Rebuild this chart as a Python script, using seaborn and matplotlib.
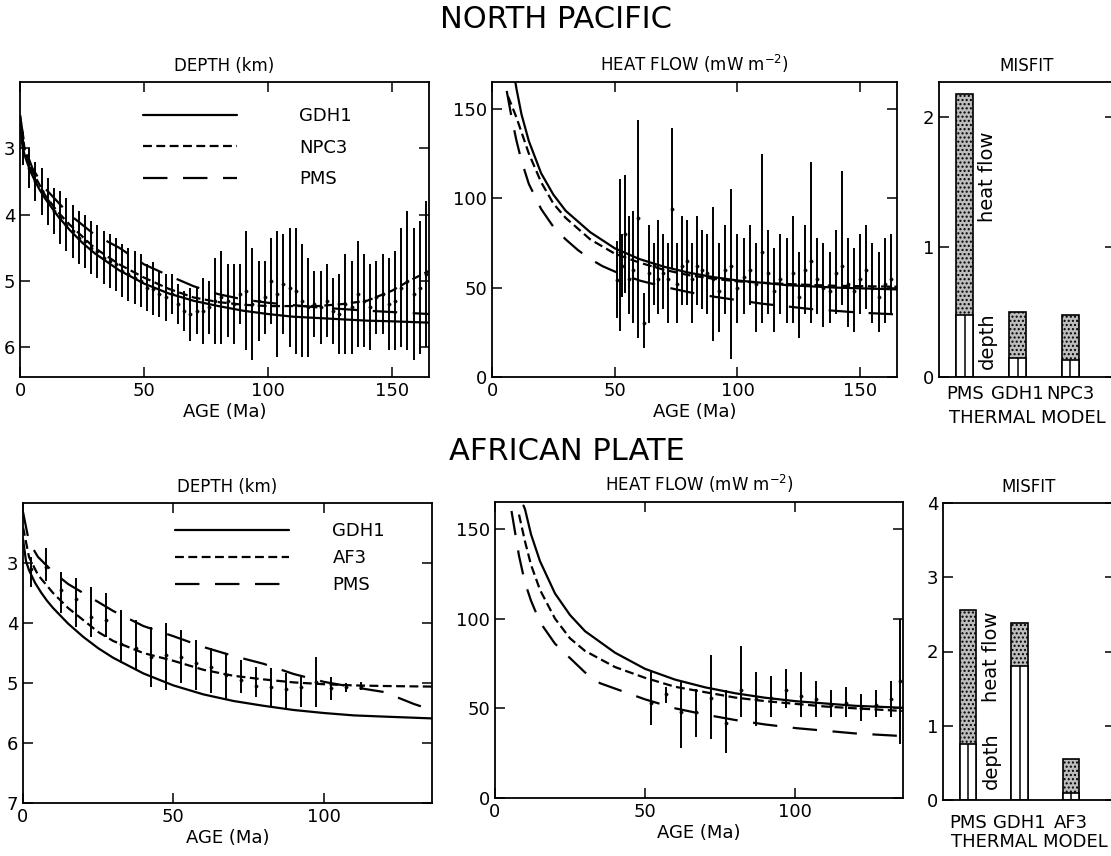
import numpy as np
import pandas as pd
import seaborn as sns
import matplotlib.pyplot as plt

# ---------------- model curves ----------------
np_depth_gdh1_age = [0, 1, 2, 4, 6, 8, 10, 15, 20, 25, 30, 40, 50, 60, 70, 80, 90, 100, 110, 120, 130, 140, 150, 165]
np_depth_gdh1 = [2.6, 2.97, 3.12, 3.33, 3.49, 3.63, 3.75, 4.01, 4.23, 4.42, 4.58, 4.84, 5.04, 5.19, 5.3, 5.38,
                 5.45, 5.5, 5.54, 5.56, 5.58, 5.6, 5.61, 5.63]
np_depth_npc3_age = [0, 2, 5, 10, 15, 20, 30, 40, 50, 60, 70, 80, 90, 100, 110, 120, 130, 140, 150, 157, 165]
np_depth_npc3 = [2.5, 3.05, 3.35, 3.7, 3.95, 4.15, 4.5, 4.75, 4.95, 5.12, 5.25, 5.32, 5.36, 5.38, 5.38, 5.38,
                 5.35, 5.3, 5.15, 5.0, 4.85]
np_depth_pms_age = [0, 2, 5, 10, 20, 30, 40, 50, 60, 70, 80, 90, 100, 120, 140, 165]
np_depth_pms = [2.5, 3.0, 3.3, 3.6, 4.0, 4.3, 4.5, 4.75, 4.92, 5.08, 5.2, 5.28, 5.33, 5.4, 5.45, 5.5]

np_heat_gdh1_age = [9.5, 10, 12, 15, 20, 25, 30, 40, 50, 55, 60, 70, 80, 90, 100, 120, 140, 165]
np_heat_gdh1 = [165, 161, 147, 132, 114, 102, 93, 81, 72, 69, 66, 61.7, 58.4, 55.9, 54, 51.4, 50, 49]
np_heat_npc3_age = [6.5, 8, 10, 12, 15, 20, 25, 30, 40, 50, 60, 70, 80, 90, 100, 120, 140, 165]
np_heat_npc3 = [157, 152, 145, 137, 125, 109, 97, 89, 77, 69, 64, 60, 57, 55, 53.5, 52, 51, 50.5]
np_heat_pms_age = [6, 8, 10, 12, 15, 20, 25, 30, 35, 40, 45, 50, 60, 70, 80, 90, 100, 110, 120, 130, 140, 150, 165]
np_heat_pms = [160, 145, 132, 121, 108, 94, 84, 77, 71, 66, 62, 59, 54, 50.5, 47.5, 45, 43, 41, 39.5, 38, 37, 36, 35]

af_depth_gdh1_age = [0, 1, 2, 4, 6, 8, 10, 15, 20, 25, 30, 40, 50, 60, 70, 80, 90, 100, 110, 120, 136]
af_depth_gdh1 = [2.6, 2.97, 3.12, 3.33, 3.49, 3.63, 3.75, 4.01, 4.23, 4.42, 4.58, 4.84, 5.04, 5.19, 5.3, 5.38,
                 5.45, 5.5, 5.54, 5.56, 5.59]
af_depth_af3_age = [0, 2, 5, 10, 15, 20, 25, 30, 40, 50, 60, 70, 80, 90, 100, 110, 120, 136]
af_depth_af3 = [2.4, 2.9, 3.2, 3.5, 3.75, 3.95, 4.15, 4.3, 4.5, 4.63, 4.78, 4.88, 4.94, 4.99, 5.02, 5.04, 5.05, 5.06]
af_depth_pms_age = [0, 2, 5, 10, 15, 20, 25, 30, 40, 50, 60, 70, 80, 90, 100, 110, 120, 130, 136]
af_depth_pms = [2.15, 2.65, 2.9, 3.15, 3.35, 3.5, 3.65, 3.8, 4.05, 4.22, 4.4, 4.55, 4.68, 4.85, 4.98, 5.07,
                5.15, 5.35, 5.45]

af_heat_gdh1_age = [9.5, 10, 12, 15, 20, 25, 30, 40, 50, 55, 60, 70, 80, 90, 100, 120, 136]
af_heat_gdh1 = [163, 161, 147, 132, 114, 102, 93, 81, 72, 69, 66, 61.7, 58.4, 55.9, 54, 51.4, 50.3]
af_heat_af3_age = [8, 10, 12, 15, 20, 25, 30, 40, 50, 60, 70, 80, 90, 100, 110, 120, 136]
af_heat_af3 = [158, 143, 130, 116, 100, 89, 82, 73, 67, 62, 59, 56, 54, 52.5, 51, 50, 48.5]
af_heat_pms_age = [5.5, 8, 10, 12, 15, 20, 25, 30, 35, 40, 50, 60, 70, 80, 90, 100, 110, 120, 136]
af_heat_pms = [160, 135, 120, 110, 98, 86, 78, 70, 64, 61, 55, 50, 46.5, 43.5, 41, 39, 37.5, 36, 34.5]

# ---------------- observations ----------------
np_obs_depth_age = [1.25, 3.75, 6.25, 8.75, 11.25, 13.75, 16.25, 18.75, 21.25, 23.75, 26.25, 28.75, 31.25,
                    33.75, 36.25, 38.75, 41.25, 43.75, 46.25, 48.75, 51.25, 53.75, 56.25, 58.75, 61.25, 63.75,
                    66.25, 68.75, 71.25, 73.75, 76.25, 78.75, 81.25, 83.75, 86.25, 88.75, 91.25, 93.75, 96.25,
                    98.75, 101.25, 103.75, 106.25, 108.75, 111.25, 113.75, 116.25, 118.75, 121.25, 123.75,
                    126.25, 128.75, 131.25, 133.75, 136.25, 138.75, 141.25, 143.75, 146.25, 148.75, 151.25,
                    153.75, 156.25, 158.75, 161.25, 163.75]
np_obs_depth = [3.0, 3.3, 3.5, 3.65, 3.8, 3.95, 4.05, 4.15, 4.25, 4.35, 4.4, 4.5, 4.55, 4.65, 4.7, 4.75, 4.85,
                4.9, 4.95, 5.0, 5.1, 5.12, 5.2, 5.25, 5.2, 5.35, 5.45, 5.5, 5.45, 5.45, 5.4, 5.3, 5.25, 5.3,
                5.35, 5.2, 5.15, 5.35, 5.3, 5.25, 5.0, 5.2, 5.05, 5.1, 5.15, 5.3, 5.4, 5.35, 5.4, 5.3, 5.45,
                5.5, 5.35, 5.4, 5.2, 5.3, 5.4, 5.25, 5.2, 5.35, 5.3, 5.1, 5.0, 5.2, 5.1, 4.9]
np_obs_depth_err = [0.25, 0.3, 0.3, 0.35, 0.35, 0.35, 0.4, 0.4, 0.4, 0.4, 0.4, 0.4, 0.4, 0.4, 0.4, 0.4, 0.4,
                    0.4, 0.4, 0.4, 0.35, 0.4, 0.35, 0.35, 0.3, 0.3, 0.3, 0.4, 0.35, 0.5, 0.4, 0.65, 0.7, 0.55,
                    0.6, 0.45, 0.9, 0.85, 0.6, 0.55, 0.65, 0.95, 0.75, 0.9, 0.95, 0.85, 0.75, 0.5, 0.55, 0.55,
                    0.5, 0.6, 0.75, 0.7, 0.8, 0.7, 0.65, 0.55, 0.6, 0.7, 0.75, 0.9, 1.05, 1.0, 1.0, 1.1]

np_obs_heat_age = [51, 52, 53, 54, 56, 57.5, 59.5, 62, 64, 66, 67.5, 69.5, 71.5, 73.5, 75.5, 77.5, 79.5, 81.5,
                   83.5, 85.5, 87.5, 90, 92.5, 95, 97.5, 100, 102.5, 105, 107.5, 110, 112.5, 115, 117.5, 120,
                   122.5, 125, 127.5, 130, 132.5, 135, 137.5, 140, 142.5, 145, 147.5, 150, 152.5, 155, 157.5,
                   160, 162.5]
np_obs_heat = [54, 70, 62, 80, 55, 60, 89, 30, 58, 62, 55, 58, 55, 94, 52, 62, 65, 55, 62, 60, 58, 55, 48, 60,
               62, 50, 56, 60, 52, 70, 58, 48, 55, 52, 58, 45, 60, 65, 55, 50, 48, 58, 62, 52, 48, 55, 60, 50,
               45, 52, 55]
np_obs_heat_lo = [33, 26, 45, 47, 35, 30, 22, 16, 30, 40, 35, 38, 30, 61, 30, 40, 40, 30, 40, 38, 35, 20, 25,
                  35, 10, 30, 35, 40, 25, 30, 35, 25, 35, 30, 30, 22, 35, 30, 35, 28, 30, 35, 40, 28, 25, 35, 38,
                  30, 25, 30, 35]
np_obs_heat_hi = [76, 111, 80, 113, 90, 93, 144, 47, 85, 75, 88, 80, 75, 139, 75, 90, 88, 75, 90, 82, 80, 95,
                  75, 85, 105, 80, 78, 85, 75, 125, 82, 72, 80, 78, 90, 70, 85, 120, 78, 75, 70, 82, 115, 78, 72,
                  80, 85, 75, 70, 78, 80]

af_obs_depth_age = [2.5, 7.5, 12.5, 17.5, 22.5, 27.5, 32.5, 37.5, 42.5, 47.5, 52.5, 57.5, 62.5, 67.5, 72.5,
                    77.5, 82.5, 87.5, 92.5, 97.5, 102.5, 107.5, 112.5]
af_obs_depth = [3.1, 3.07, 3.45, 3.6, 3.9, 3.95, 4.35, 4.42, 4.57, 4.53, 4.57, 4.67, 4.73, 4.87, 4.95, 5.05,
                5.07, 5.1, 5.07, 4.98, 5.08, 5.07, 5.05]
af_obs_depth_lo = [2.9, 2.75, 3.15, 3.25, 3.4, 3.5, 3.78, 3.95, 4.07, 4.0, 4.12, 4.28, 4.42, 4.5, 4.62, 4.73,
                   4.75, 4.83, 4.9, 4.57, 4.9, 5.0, 4.98]
af_obs_depth_hi = [3.4, 3.3, 3.83, 4.07, 4.23, 4.23, 4.67, 4.78, 5.07, 5.12, 5.0, 5.12, 5.17, 5.28, 5.17, 5.23,
                   5.4, 5.45, 5.4, 5.4, 5.28, 5.15, 5.12]

af_obs_heat_age = [52, 57, 62, 67, 72, 77, 82, 87, 92, 97, 102, 107, 112, 117, 122, 127, 132, 135]
af_obs_heat = [53, 58, 48, 48, 55.5, 42, 60, 55, 56, 60, 57, 55, 52, 53, 50, 52, 55, 65]
af_obs_heat_lo = [40.5, 53, 28, 34, 33, 25, 45, 40, 45, 50, 45, 45, 45, 45, 43, 45, 45, 30]
af_obs_heat_hi = [70, 62, 64.5, 61, 79.5, 60, 85, 70, 68, 72, 70, 65, 60, 62, 58, 60, 65, 100]

# ---------------- misfit ----------------
np_models = ["PMS", "GDH1", "NPC3"]
np_misfit_total = [2.18, 0.5, 0.48]
np_misfit_depth = [0.48, 0.15, 0.13]
af_models = ["PMS", "GDH1", "AF3"]
af_misfit_total = [2.56, 2.39, 0.55]
af_misfit_depth = [0.75, 1.8, 0.1]

# ---------------- style ----------------
sns.set_style("ticks")
plt.rcParams["font.family"] = ["DejaVu Sans"]
plt.rcParams.update({
    "axes.linewidth": 1.3,
    "xtick.direction": "in", "ytick.direction": "in",
    "xtick.top": True, "ytick.right": True,
    "xtick.major.size": 7, "ytick.major.size": 7,
    "xtick.major.width": 1.1, "ytick.major.width": 1.1,
    "xtick.labelsize": 13, "ytick.labelsize": 13,
    "axes.edgecolor": "black", "xtick.color": "black", "ytick.color": "black",
    "text.color": "black", "axes.labelcolor": "black", "axes.titlecolor": "black",
})

W, H = 1111, 856
fig = plt.figure(figsize=(W / 100, H / 100), dpi=100)


def box(x0, x1, y0, y1):
    return [x0 / W, 1 - y1 / H, (x1 - x0) / W, (y1 - y0) / H]


SHORT = (4, 2)
LONG = (11, 7)


def model_lines(ax, curves, styles):
    rows = []
    for name, ages, vals in curves:
        rows += [{"age": a, "val": v, "model": name} for a, v in zip(ages, vals)]
    df = pd.DataFrame(rows)
    sns.lineplot(data=df, x="age", y="val", style="model", dashes=styles, color="black",
                 lw=1.6, estimator=None, sort=False, ax=ax)


def obs(ax, ages, centre, lo, hi):
    ax.vlines(ages, lo, hi, color="black", lw=1.4)
    sns.scatterplot(x=ages, y=centre, color="black", s=6, edgecolor="black", ax=ax, zorder=4)


def misfit(ax, models, total, depth, ymax, hf_xy, d_xy, tick_pad, label_pad):
    sns.barplot(x=models, y=total, color="#bdbdbd", edgecolor="black", hatch="....", lw=1.2,
                width=0.32, ax=ax)
    sns.barplot(x=models, y=depth, color="white", edgecolor="black", lw=1.2, width=0.32, ax=ax)
    ax.vlines(range(len(models)), 0, depth, color="black", lw=1.1)
    ax.set_xlim(-0.49, 2.85)
    ax.set_ylim(0, ymax)
    ax.tick_params(axis="x", length=0, pad=tick_pad)
    ax.set_xlabel("THERMAL MODEL", fontsize=13, labelpad=label_pad)
    ax.set_ylabel("")
    ax.set_title("MISFIT", fontsize=12, pad=8)
    ax.text(*hf_xy, "heat flow", rotation=90, ha="center", va="center", fontsize=14)
    ax.text(*d_xy, "depth", rotation=90, ha="center", va="center", fontsize=14)
    ax.spines["right"].set_visible(False)


# ---------------- North Pacific ----------------
ax1 = fig.add_axes(box(20, 429, 82, 377))
obs(ax1, np_obs_depth_age, np_obs_depth,
    [c - e for c, e in zip(np_obs_depth, np_obs_depth_err)],
    [c + e for c, e in zip(np_obs_depth, np_obs_depth_err)])
model_lines(ax1, [("GDH1", np_depth_gdh1_age, np_depth_gdh1),
                  ("NPC3", np_depth_npc3_age, np_depth_npc3),
                  ("PMS", np_depth_pms_age, np_depth_pms)],
            {"GDH1": "", "NPC3": SHORT, "PMS": LONG})
ax1.set_xlim(0, 165)
ax1.set_ylim(6.45, 2.0)
ax1.set_xticks([0, 50, 100, 150])
ax1.set_yticks([3, 4, 5, 6])
ax1.set_xlabel("AGE (Ma)", fontsize=13, labelpad=2)
ax1.set_ylabel("")
ax1.set_title("DEPTH (km)", fontsize=12, pad=8)
h, l = ax1.get_legend_handles_labels()
ax1.legend(h, l, loc="upper right", frameon=False, fontsize=13, handlelength=5.2,
           handletextpad=3.4, labelspacing=0.75, bbox_to_anchor=(0.85, 0.97))

ax2 = fig.add_axes(box(492, 897, 82, 377))
obs(ax2, np_obs_heat_age, np_obs_heat, np_obs_heat_lo, np_obs_heat_hi)
model_lines(ax2, [("GDH1", np_heat_gdh1_age, np_heat_gdh1),
                  ("NPC3", np_heat_npc3_age, np_heat_npc3),
                  ("PMS", np_heat_pms_age, np_heat_pms)],
            {"GDH1": "", "NPC3": SHORT, "PMS": LONG})
ax2.get_legend().remove()
ax2.set_xlim(0, 165)
ax2.set_ylim(0, 165)
ax2.set_xticks([0, 50, 100, 150])
ax2.set_yticks([0, 50, 100, 150])
ax2.set_xlabel("AGE (Ma)", fontsize=13, labelpad=2)
ax2.set_ylabel("")
ax2.set_title("HEAT FLOW (mW m$^{-2}$)", fontsize=12, pad=8)

ax3 = fig.add_axes(box(939, 1115, 82, 377))
misfit(ax3, np_models, np_misfit_total, np_misfit_depth, 2.27, (0.43, 1.54), (0.43, 0.28), 6, 4)
ax3.set_yticks([0, 1, 2])

# ---------------- African Plate ----------------
ax4 = fig.add_axes(box(23, 432, 503, 803))
obs(ax4, af_obs_depth_age, af_obs_depth, af_obs_depth_lo, af_obs_depth_hi)
model_lines(ax4, [("GDH1", af_depth_gdh1_age, af_depth_gdh1),
                  ("AF3", af_depth_af3_age, af_depth_af3),
                  ("PMS", af_depth_pms_age, af_depth_pms)],
            {"GDH1": "", "AF3": SHORT, "PMS": LONG})
ax4.set_xlim(0, 136)
ax4.set_ylim(7, 2)
ax4.set_xticks([0, 50, 100])
ax4.set_yticks([3, 4, 5, 6, 7])
ax4.set_xlabel("AGE (Ma)", fontsize=13, labelpad=2)
ax4.set_ylabel("")
ax4.set_title("DEPTH (km)", fontsize=12, pad=8)
h, l = ax4.get_legend_handles_labels()
ax4.legend(h, l, loc="upper right", frameon=False, fontsize=13, handlelength=6.3,
           handletextpad=2.4, labelspacing=0.5, bbox_to_anchor=(0.925, 0.99))

ax5 = fig.add_axes(box(495, 903, 502, 798))
obs(ax5, af_obs_heat_age, af_obs_heat, af_obs_heat_lo, af_obs_heat_hi)
model_lines(ax5, [("GDH1", af_heat_gdh1_age, af_heat_gdh1),
                  ("AF3", af_heat_af3_age, af_heat_af3),
                  ("PMS", af_heat_pms_age, af_heat_pms)],
            {"GDH1": "", "AF3": SHORT, "PMS": LONG})
ax5.get_legend().remove()
ax5.set_xlim(0, 136)
ax5.set_ylim(0, 165)
ax5.set_xticks([0, 50, 100])
ax5.set_yticks([0, 50, 100, 150])
ax5.set_xlabel("AGE (Ma)", fontsize=13, labelpad=2)
ax5.set_ylabel("")
ax5.set_title("HEAT FLOW (mW m$^{-2}$)", fontsize=12, pad=8)

ax6 = fig.add_axes(box(943, 1115, 503, 800))
misfit(ax6, af_models, af_misfit_total, af_misfit_depth, 4.0, (0.45, 1.93), (0.45, 0.53), 10, 1)
ax6.set_yticks([0, 1, 2, 3, 4])

fig.text(0.5, 1 - 20 / H, "NORTH PACIFIC", ha="center", va="center", fontsize=22)
fig.text(0.51, 1 - 452 / H, "AFRICAN PLATE", ha="center", va="center", fontsize=22)

fig.savefig("out.png", dpi=100)
